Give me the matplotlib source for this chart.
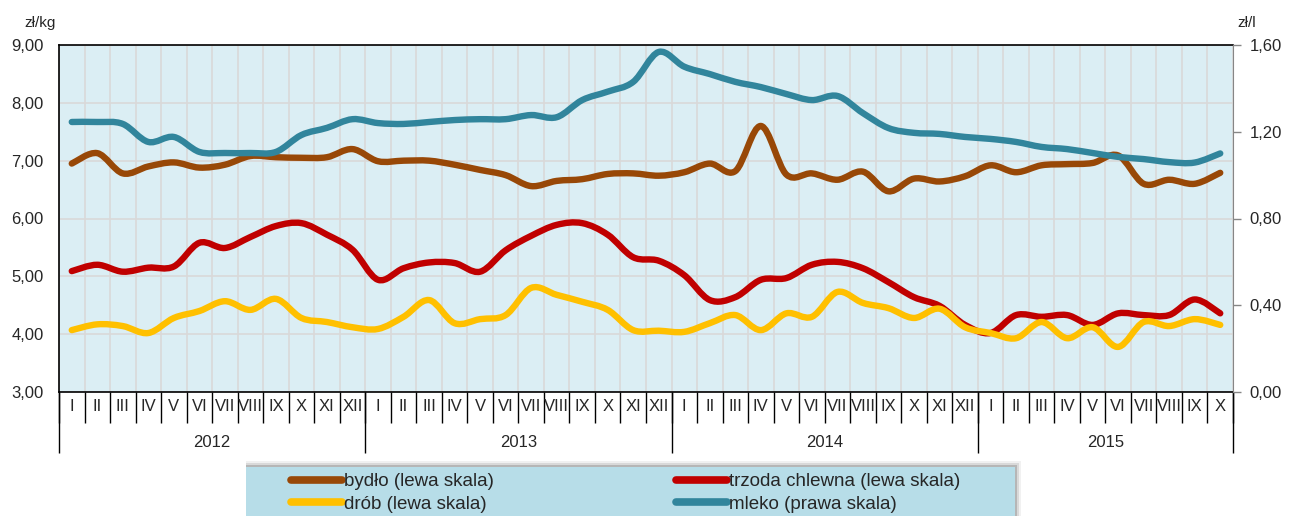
import numpy as np
import matplotlib
matplotlib.use('Agg')
import matplotlib.pyplot as plt
from matplotlib.path import Path
from matplotlib.patches import PathPatch, Rectangle
from matplotlib.lines import Line2D
from matplotlib.ticker import FuncFormatter

plt.rcParams['font.family'] = ['Liberation Sans', 'DejaVu Sans']

months = ['I', 'II', 'III', 'IV', 'V', 'VI', 'VII', 'VIII', 'IX', 'X', 'XI', 'XII'] * 3 + \
         ['I', 'II', 'III', 'IV', 'V', 'VI', 'VII', 'VIII', 'IX', 'X']
years = ['2012', '2013', '2014', '2015']
year_len = [12, 12, 12, 10]

# zł/kg, lewa skala
bydlo = [6.95, 7.13, 6.78, 6.90, 6.97, 6.88, 6.93, 7.08, 7.06, 7.05, 7.06, 7.20,
         6.99, 7.00, 7.00, 6.93, 6.84, 6.75, 6.56, 6.65, 6.68, 6.77, 6.78, 6.74,
         6.80, 6.95, 6.82, 7.60, 6.76, 6.78, 6.67, 6.81, 6.47, 6.69, 6.64, 6.73,
         6.92, 6.80, 6.92, 6.94, 6.96, 7.09, 6.60, 6.67, 6.60, 6.79]
trzoda = [5.09, 5.20, 5.08, 5.15, 5.17, 5.58, 5.49, 5.68, 5.87, 5.92, 5.72, 5.46,
          4.94, 5.14, 5.24, 5.23, 5.08, 5.45, 5.70, 5.89, 5.92, 5.72, 5.33, 5.27,
          5.02, 4.59, 4.64, 4.94, 4.97, 5.20, 5.25, 5.14, 4.90, 4.64, 4.49, 4.16,
          4.02, 4.33, 4.30, 4.33, 4.16, 4.36, 4.33, 4.33, 4.60, 4.36]
drob = [4.07, 4.17, 4.14, 4.02, 4.28, 4.40, 4.57, 4.42, 4.61, 4.28, 4.21, 4.12,
        4.09, 4.30, 4.59, 4.19, 4.26, 4.33, 4.80, 4.68, 4.56, 4.42, 4.07, 4.06,
        4.04, 4.19, 4.33, 4.07, 4.36, 4.30, 4.73, 4.54, 4.45, 4.28, 4.44, 4.12,
        4.02, 3.93, 4.21, 3.93, 4.12, 3.78, 4.21, 4.14, 4.26, 4.16]
# zł/l, prawa skala
mleko = [1.245, 1.245, 1.236, 1.153, 1.176, 1.107, 1.102, 1.102, 1.107, 1.185, 1.218, 1.258,
         1.240, 1.236, 1.245, 1.254, 1.258, 1.258, 1.277, 1.267, 1.346, 1.385, 1.430, 1.568,
         1.500, 1.466, 1.430, 1.406, 1.374, 1.346, 1.365, 1.286, 1.217, 1.195, 1.190, 1.176,
         1.167, 1.153, 1.130, 1.120, 1.102, 1.084, 1.074, 1.060, 1.058, 1.100]

labels = ['bydło (lewa skala)', 'trzoda chlewna (lewa skala)', 'drób (lewa skala)', 'mleko (prawa skala)']
colors = ['#984807', '#C00000', '#FFC000', '#31859C']

n = len(months)
x = np.arange(n) + 0.5
W, H = 1290, 516


def smooth_path(xs, ys):
    # excel-like smoothed line: catmull-rom segments as cubic beziers
    p = np.column_stack([xs, ys])
    ext = np.vstack([p[0], p, p[-1]])
    verts = [p[0]]
    codes = [Path.MOVETO]
    for i in range(len(p) - 1):
        a, b, c, d = ext[i], ext[i + 1], ext[i + 2], ext[i + 3]
        verts += [b + (c - a) / 6, c - (d - b) / 6, c]
        codes += [Path.CURVE4] * 3
    return Path(verts, codes)


def comma(v, p):
    return f'{v:.2f}'.replace('.', ',')


fig = plt.figure(figsize=(W / 100, H / 100), dpi=100)
ax = fig.add_axes([59 / W, 1 - 392 / H, (1233 - 59) / W, 347 / H])
ax.set_facecolor('#DBEEF4')
ax.set_xlim(0, n)
ax.set_ylim(3, 9)
ax.set_yticks(np.arange(3, 9.01, 1))
ax.yaxis.set_major_formatter(FuncFormatter(comma))
ax.tick_params(axis='y', length=0, pad=11, labelsize=12, labelcolor='#262626')

# month boundaries + labels
ax.set_xticks(np.arange(n + 1))
ax.set_xticklabels([])
ax.tick_params(axis='x', which='major', length=22, width=1, color='black', direction='out')
ax.set_xticks(x, minor=True)
ax.set_xticklabels(months, minor=True)
ax.tick_params(axis='x', which='minor', length=0, pad=5, labelsize=12, labelcolor='#262626')

ax.grid(True, which='major', color='#D9D9D9', lw=1.2)
ax.set_axisbelow(True)
for s in ['left', 'bottom', 'top']:
    ax.spines[s].set_color('black')
    ax.spines[s].set_linewidth(1.2)
ax.spines['right'].set_visible(False)

# year row
bounds = np.concatenate([[0], np.cumsum(year_len)])
sec = ax.secondary_xaxis('bottom')
sec.set_xticks(bounds)
sec.set_xticklabels([])
sec.tick_params(axis='x', which='major', length=44, width=1, color='black')
sec.set_xticks((bounds[:-1] + bounds[1:]) / 2, minor=True)
sec.set_xticklabels(years, minor=True)
sec.tick_params(axis='x', which='minor', length=0, pad=31, labelsize=12, labelcolor='#262626')
sec.spines['bottom'].set_visible(False)

ax2 = ax.twinx()
ax2.set_ylim(0, 1.6)
ax2.set_yticks(np.arange(0, 1.61, 0.4))
ax2.yaxis.set_major_formatter(FuncFormatter(comma))
ax2.tick_params(axis='y', length=6, width=1, color='#868686', pad=6, labelsize=12, labelcolor='#262626')
for s in ['left', 'top', 'bottom']:
    ax2.spines[s].set_visible(False)
ax2.spines['right'].set_color('#868686')

for data, c, a in [(bydlo, colors[0], ax), (trzoda, colors[1], ax), (drob, colors[2], ax), (mleko, colors[3], ax2)]:
    a.add_patch(PathPatch(smooth_path(x, data), fc='none', ec=c, lw=4.6, capstyle='round', joinstyle='round'))

fig.text(24 / W, 1 - 23 / H, 'zł/kg', fontsize=11, va='center', color='#262626')
fig.text(1237 / W, 1 - 23 / H, 'zł/l', fontsize=11, va='center', color='#262626')

# legend box with soft shadow (top/right)
bx0, bx1, btop = 246, 1015, 467
for k, al in [(6, 0.08), (4, 0.15), (2, 0.25)]:
    fig.patches.append(Rectangle((bx0 / W, -0.1), (bx1 - bx0 + k) / W, 0.1 + (H - btop + k) / H,
                                 transform=fig.transFigure, fc='#505050', ec='none', alpha=al, zorder=1))
fig.patches.append(Rectangle((bx0 / W, -0.1), (bx1 - bx0) / W, 0.1 + (H - btop) / H,
                             transform=fig.transFigure, fc='#B7DDE8', ec='none', zorder=2))

handles = [Line2D([], [], color=c, lw=5.5, solid_capstyle='round') for c in colors]
kw = dict(loc='upper left', ncol=1, fontsize=13.5, frameon=False, handlelength=2.7,
          handletextpad=0.15, borderpad=0, labelspacing=0.3, borderaxespad=0)
leg1 = fig.legend([handles[0], handles[2]], [labels[0], labels[2]],
                  bbox_to_anchor=(291 / W, 1 - 473 / H), **kw)
leg2 = fig.legend([handles[1], handles[3]], [labels[1], labels[3]],
                  bbox_to_anchor=(676 / W, 1 - 473 / H), **kw)
for lg in (leg1, leg2):
    lg.set_zorder(5)
    for t in lg.get_texts():
        t.set_color('#262626')

fig.savefig('out.png', dpi=100)
